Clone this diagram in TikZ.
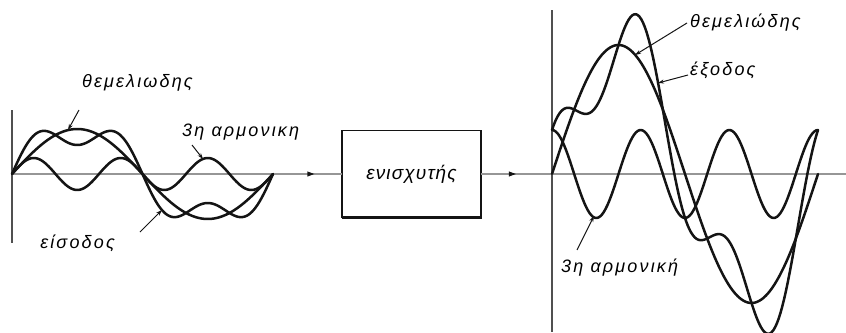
\documentclass[tikz,border=0pt]{standalone}
\usepackage{fontspec}
\newfontfamily\lblfont[LetterSpace=12]{Liberation Sans}
\newfontfamily\boxfont[LetterSpace=6]{Liberation Sans}
\usetikzlibrary{
  arrows.meta,
  positioning,
  decorations.markings
}
\definecolor{inkblack}{RGB}{20,20,20}
\definecolor{axisgray}{RGB}{150,150,150}
\definecolor{vaxisgray}{RGB}{80,80,80}
\tikzset{
  wave/.style={
    draw=inkblack, line width=2.5pt,
    line join=round, line cap=round
  },
  axisline/.style={
    draw=axisgray, line width=1.8pt
  },
  vaxis/.style={
    draw=vaxisgray, line width=1.3pt
  },
  ampbox/.style={
    draw=inkblack, line width=1.4pt,
    minimum width=139pt, minimum height=87pt,
    inner sep=0pt, outer sep=0pt,
    font=\boxfont\itshape\fontsize{19}{21}\selectfont
  },
  boxedge/.style={
    draw=inkblack, line width=2.6pt
  },
  wavelabel/.style={
    font=\lblfont\itshape\fontsize{18}{20}\selectfont,
    inner sep=0pt
  },
  pointer/.style={
    -{Stealth[length=6pt,width=4pt]},
    draw=inkblack, line width=1pt
  },
  flowarrow/.style={
    postaction={decorate},
    decoration={markings, mark=at position #1 with
      {\fill[inkblack] (2pt,0) -- (-5pt,2.6pt) -- (-5pt,-2.6pt) -- cycle;}}
  },
}

\begin{document}
\begin{tikzpicture}[x=1pt, y=-1pt]

  \path[use as bounding box] (0,0) rectangle (846,332);

  %% axes
  \coordinate (oL) at (12,174);
  \coordinate (oR) at (552,174);
  \coordinate (axEnd) at (846,174);

  \node[ampbox] (amp) at (411.5,174) {ενισχυτής};
  \draw[boxedge] (amp.north east) -- (amp.south east) -- (amp.south west);

  \draw[vaxis] (12,110) -- (12,243);
  \draw[vaxis] (552,10) -- (552,332);
  \draw[axisline, flowarrow=0.91] (oL) -- (amp.west);
  \draw[axisline, flowarrow=0.09] (amp.east) -- (axEnd);

  %% input: fundamental + 3rd harmonic
  \draw[wave] plot[domain=0:360, samples=150]
    ({12+\x/360*261}, {174-45*sin(\x)});
  \draw[wave] plot[domain=0:360, samples=150]
    ({12+\x/360*261}, {174-16*sin(3*\x)});
  \draw[wave] plot[domain=0:360, samples=150]
    ({12+\x/360*261}, {174-45*sin(\x)-16*sin(3*\x)});

  \node[wavelabel, anchor=west] (fundL) at (82,83) {θεμελιωδης};
  \node[wavelabel, anchor=west] (harmL) at (182,132) {3η αρμονικη};
  \node[wavelabel, anchor=east] (inL) at (115,243) {είσοδος};

  \coordinate (fundLtip) at (68,130);
  \coordinate (harmLtip) at (203,159);
  \coordinate (inLtip) at (162,210);
  \draw[pointer] ([shift={(-3,27)}]fundL.west) -- (fundLtip);
  \draw[pointer] ([shift={(10,13)}]harmL.west) -- (harmLtip);
  \draw[pointer] ([shift={(25,-11)}]inL.east) -- (inLtip);

  %% output: shifted 3rd harmonic
  \draw[wave] plot[domain=0:360, samples=150]
    ({552+\x/360*266}, {174-129*sin(\x)});
  \draw[wave] plot[domain=0:360, samples=150]
    ({552+\x/360*266}, {174-44*cos(3*\x)});
  \draw[wave] plot[domain=0:360, samples=150]
    ({552+\x/360*266}, {174-129*sin(\x)-44*cos(3*\x)});

  \node[wavelabel, anchor=west] (fundR) at (690,23) {θεμελιώδης};
  \node[wavelabel, anchor=west] (outR) at (690,70) {έξοδος};
  \node[wavelabel, anchor=west] (harmR) at (561,268) {3η αρμονική};

  \coordinate (fundRtip) at (635,55);
  \coordinate (outRtip) at (658,83);
  \coordinate (harmRtip) at (594,216);
  \draw[pointer] ([shift={(-3,0)}]fundR.west) -- (fundRtip);
  \draw[pointer] ([shift={(-2,5)}]outR.west) -- (outRtip);
  \draw[pointer] ([shift={(16,-18)}]harmR.west) -- (harmRtip);

\end{tikzpicture}
\end{document}
